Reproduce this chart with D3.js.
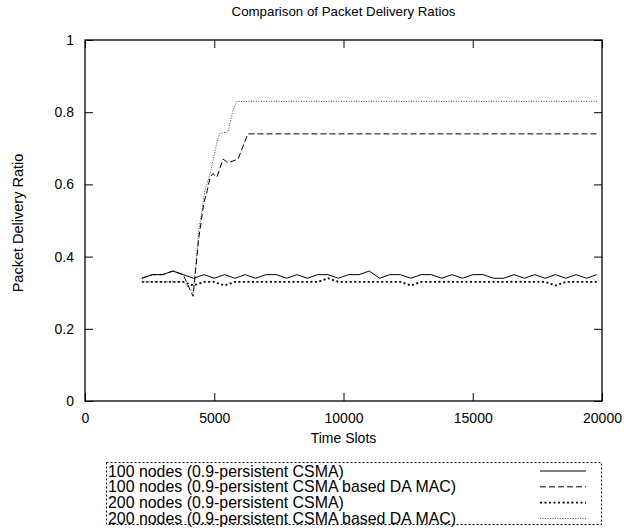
<!DOCTYPE html>
<html>
<head>
<meta charset="utf-8">
<script src="https://cdn.jsdelivr.net/npm/d3@7"></script>
<style>
  body { margin: 0; background: #fff; }
  text { font-family: "Liberation Sans", Arial, sans-serif; fill: #000; }
</style>
</head>
<body>
<script>
//chart data
var xTicks = [0, 5000, 10000, 15000, 20000];
var yTicks = [0, 0.2, 0.4, 0.6, 0.8, 1];

var csmaTimes = [2200,2600,3000,3400,3800,4200,4600,5000,5400,5800,6200,6600,7000,7400,7800,
    8200,8600,9000,9400,9800,10200,10600,11000,11400,11800,12200,12600,13000,13400,13800,
    14200,14600,15000,15400,15800,16200,16600,17000,17400,17800,18200,18600,19000,19400,19800];

var csma100 = [0.34,0.35,0.35,0.36,0.35,0.34,0.35,0.34,0.35,0.34,0.35,0.34,0.35,0.35,0.34,
    0.35,0.34,0.35,0.35,0.34,0.35,0.35,0.36,0.34,0.35,0.35,0.34,0.35,0.35,0.34,
    0.35,0.34,0.35,0.35,0.34,0.34,0.35,0.34,0.35,0.34,0.35,0.34,0.35,0.34,0.35];

var csma200 = [0.33,0.33,0.33,0.33,0.33,0.32,0.33,0.33,0.32,0.33,0.33,0.33,0.33,0.33,0.33,
    0.33,0.33,0.33,0.34,0.33,0.33,0.33,0.33,0.33,0.33,0.33,0.32,0.33,0.33,0.33,
    0.33,0.33,0.33,0.33,0.33,0.33,0.33,0.33,0.33,0.33,0.32,0.33,0.33,0.33,0.33];

var da100Times = [2200,2600,3000,3400,3800,4180,4400,4600,4720,4840,4950,5100,5340,5530,5920,6300,19800];
var da100 = [0.34,0.35,0.35,0.36,0.35,0.29,0.45,0.55,0.58,0.62,0.63,0.62,0.67,0.66,0.67,0.74,0.74];

var da200Times = [2200,2600,3000,3400,3800,4180,4400,4640,4840,5100,5220,5530,5730,5880,19800];
var da200 = [0.33,0.33,0.33,0.33,0.33,0.30,0.47,0.585,0.63,0.715,0.742,0.745,0.806,0.83,0.83];

var seriesNames = [
    "100 nodes (0.9-persistent CSMA)",
    "100 nodes (0.9-persistent CSMA based DA MAC)",
    "200 nodes (0.9-persistent CSMA)",
    "200 nodes (0.9-persistent CSMA based DA MAC)"
];

//line styles per series
var styles = [
    {dash: null, width: 1, color: "#000"},
    {dash: "6,3", width: 1, color: "#000"},
    {dash: "2,2.5", width: 1.8, color: "#000"},
    {dash: "1,1.5", width: 1, color: "#444"}
];

var series = [
    d3.zip(csmaTimes, csma100),
    d3.zip(da100Times, da100),
    d3.zip(csmaTimes, csma200),
    d3.zip(da200Times, da200)
];

var w = 624, h = 531;
var pLeft = 85, pRight = 602, pTop = 40, pBottom = 401;

var svg = d3.select("body").append("svg")
    .attr("width", w)
    .attr("height", h);

var x = d3.scaleLinear().domain([0, 20000]).range([pLeft, pRight]);
var y = d3.scaleLinear().domain([0, 1]).range([pBottom, pTop]);

//ticks on all four sides, pointing inwards
svg.append("g").attr("transform", "translate(0," + pBottom + ")")
    .call(d3.axisBottom(x).tickValues(xTicks).tickSize(-8).tickPadding(12).tickFormat(d3.format("d")));
svg.append("g").attr("transform", "translate(0," + pTop + ")")
    .call(d3.axisTop(x).tickValues(xTicks).tickSize(-8).tickFormat(""));
svg.append("g").attr("transform", "translate(" + pLeft + ",0)")
    .call(d3.axisLeft(y).tickValues(yTicks).tickSize(-8).tickPadding(11).tickFormat(d3.format("")));
svg.append("g").attr("transform", "translate(" + pRight + ",0)")
    .call(d3.axisRight(y).tickValues(yTicks).tickSize(-8).tickFormat(""));

svg.selectAll(".domain").remove();
svg.selectAll(".tick line").attr("stroke", "#000").attr("stroke-width", 1);
svg.selectAll(".tick text").style("font-size", "14px").style("font-family", "Liberation Sans, Arial, sans-serif");

//frame
svg.append("rect")
    .attr("x", pLeft).attr("y", pTop)
    .attr("width", pRight - pLeft).attr("height", pBottom - pTop)
    .attr("fill", "none").attr("stroke", "#000").attr("stroke-width", 1.3);

//lines
var line = d3.line()
    .x(function(d){ return x(d[0]); })
    .y(function(d){ return y(d[1]); });

svg.selectAll(".series")
    .data(series)
    .enter()
    .append("path")
    .attr("class", "series")
    .attr("d", line)
    .attr("fill", "none")
    .attr("stroke", function(d, i){ return styles[i].color; })
    .attr("stroke-width", function(d, i){ return styles[i].width; })
    .attr("stroke-dasharray", function(d, i){ return styles[i].dash; });

//titles
svg.append("text")
    .attr("x", (pLeft + pRight) / 2).attr("y", 16)
    .attr("text-anchor", "middle")
    .style("font-size", "13.3px")
    .text("Comparison of Packet Delivery Ratios");

svg.append("text")
    .attr("x", (pLeft + pRight) / 2).attr("y", 443)
    .attr("text-anchor", "middle")
    .style("font-size", "14px")
    .text("Time Slots");

svg.append("text")
    .attr("transform", "translate(23,223) rotate(-90)")
    .attr("text-anchor", "middle")
    .style("font-size", "14.5px")
    .text("Packet Delivery Ratio");

//legend
var legend = svg.append("g");
legend.append("rect")
    .attr("x", 106.5).attr("y", 462.5)
    .attr("width", 495).attr("height", 62)
    .attr("fill", "none").attr("stroke", "#000")
    .attr("stroke-width", 1).attr("stroke-dasharray", "2,2");

var items = legend.selectAll(".item")
    .data(seriesNames)
    .enter()
    .append("g")
    .attr("class", "item")
    .attr("transform", function(d, i){ return "translate(0," + (471 + i * 15.8) + ")"; });

items.append("text")
    .attr("x", 108).attr("y", 5.5)
    .style("font-size", "15.9px")
    .text(function(d){ return d; });

items.append("line")
    .attr("x1", 540).attr("x2", 586)
    .attr("y1", 0).attr("y2", 0)
    .attr("stroke", function(d, i){ return styles[i].color; })
    .attr("stroke-width", function(d, i){ return styles[i].width; })
    .attr("stroke-dasharray", function(d, i){ return styles[i].dash; });
</script>
</body>
</html>
